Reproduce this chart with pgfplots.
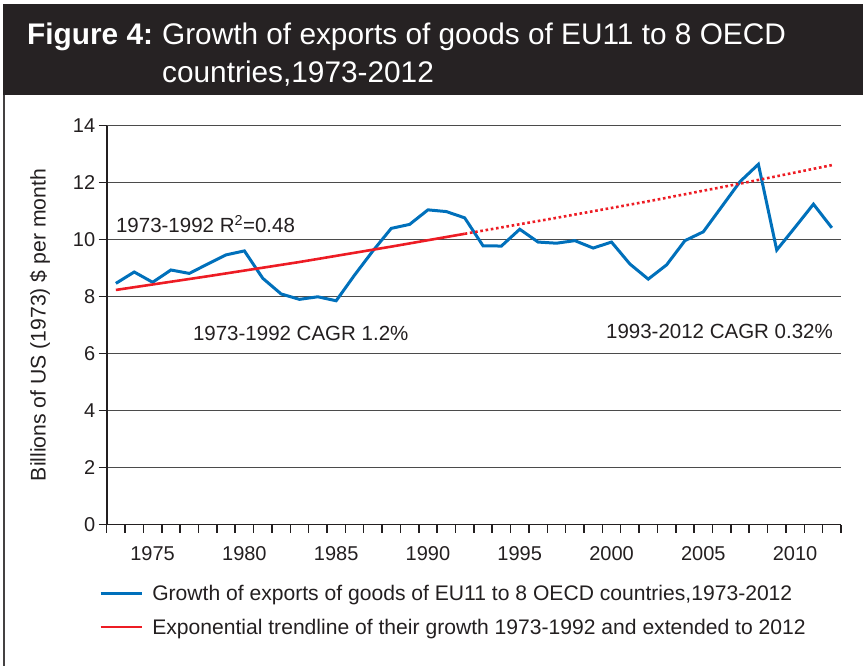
\documentclass[border=0pt]{standalone}
\usepackage{pgfplots}
\pgfplotsset{compat=1.18}
\usepackage{fontspec}
\setmainfont{Liberation Sans}
\definecolor{band}{RGB}{38,34,35}
\definecolor{txt}{RGB}{35,31,32}
\definecolor{sblue}{RGB}{0,112,187}
\definecolor{sred}{RGB}{237,28,36}
\definecolor{gridc}{RGB}{75,75,75}

% export values, billions of 1973 US$ per month
\pgfplotstableread{
year val
1973 8.46
1974 8.86
1975 8.50
1976 8.93
1977 8.81
1978 9.14
1979 9.46
1980 9.60
1981 8.64
1982 8.09
1983 7.90
1984 7.99
1985 7.85
1986 8.75
1987 9.60
1988 10.39
1989 10.53
1990 11.04
1991 10.98
1992 10.76
1993 9.78
1994 9.77
1995 10.36
1996 9.91
1997 9.87
1998 9.96
1999 9.70
2000 9.91
2001 9.14
2002 8.61
2003 9.11
2004 9.96
2005 10.27
2006 11.15
2007 12.03
2008 12.64
2009 9.63
2010 10.43
2011 11.24
2012 10.41
}\exports

\begin{document}
\begin{tikzpicture}[x=1pt,y=1pt]
\useasboundingbox (0,0) rectangle (863,-666);
\fill[band] (3,-4) rectangle (863,-95);
\draw[txt!85, line width=2pt] (4,-95) -- (4,-666);
\node[anchor=base west, text=white, inner sep=0pt, font=\fontsize{29.8}{36}\selectfont]
  at (27,-45) {\textbf{Figure 4:}\hspace{-2pt} Growth of exports of goods of EU11 to 8 OECD};
\node[anchor=base west, text=white, inner sep=0pt, font=\fontsize{29.8}{36}\selectfont]
  at (162,-83) {countries,1973-2012};

\begin{axis}[
  scale only axis,
  width=734.3pt, height=399pt,
  at={(106.7pt,-524.5pt)}, anchor=south west,
  xmin=1972.5, xmax=2012.5, ymin=0, ymax=14,
  axis x line*=bottom, axis y line*=left,
  axis line style={line width=1.8pt, txt},
  tick align=outside,
  major tick length=8pt, minor tick length=8pt,
  tick style={line width=1.5pt, txt},
  xtick={1975,1980,...,2010},
  minor xtick={1972.5,1973.5,...,2012.5},
  major x tick style={draw=none},
  ytick={0,2,...,14},
  ymajorgrids,
  major grid style={gridc, line width=1.3pt},
  /pgf/number format/assume math mode=true,
  x tick label style={/pgf/number format/1000 sep={}, yshift=-10pt},
  tick label style={font=\fontsize{20}{24}\selectfont, text=txt},
  ylabel={Billions of US (1973) \$ per month},
  ylabel style={at={(axis description cs:-0.0908,0.5)}, anchor=center,
    font=\fontsize{21.2}{24}\selectfont, text=txt},
  legend style={at={(axis description cs:-0.0105,-0.146)}, anchor=north west,
    draw=none, fill=none, inner sep=0pt, row sep=13pt,
    font=\fontsize{21.1}{24}\selectfont, text=txt,
    /tikz/every odd column/.append style={column sep=6.5pt}},
  legend cell align=left,
  legend image code/.code={\draw[#1] (0pt,0pt) -- (41.6pt,0pt);},
  clip=false,
]
\addplot[sblue, line width=3pt, line join=miter] table[x=year, y=val] {\exports};
\addlegendentry{Growth of exports of goods of EU11 to 8 OECD countries,1973-2012}
\addplot[sred, line width=2.6pt] coordinates {
  (1973,8.23) (1978,8.71) (1983,9.21) (1988,9.75) (1992,10.20)};
\addlegendentry{Exponential trendline of their growth 1973-1992 and extended to 2012}
\addplot[sred, line width=2.6pt, dash pattern=on 2.6pt off 2.7pt, forget plot] coordinates {
  (1992,10.20) (1997,10.76) (2002,11.34) (2007,11.96) (2012,12.61)};
\node[anchor=west, inner sep=0pt, text=txt, font=\fontsize{20.5}{24}\selectfont]
  at (axis cs:1973.0,10.54) {1973-1992 R\textsuperscript{2}=0.48};
\node[anchor=center, inner sep=0pt, text=txt, font=\fontsize{20.5}{24}\selectfont]
  at (axis cs:1983.07,6.72) {1973-1992 CAGR 1.2\%};
\node[anchor=east, inner sep=0pt, text=txt, font=\fontsize{20.5}{24}\selectfont]
  at (axis cs:2012.07,6.76) {1993-2012 CAGR 0.32\%};
\end{axis}
\end{tikzpicture}
\end{document}
